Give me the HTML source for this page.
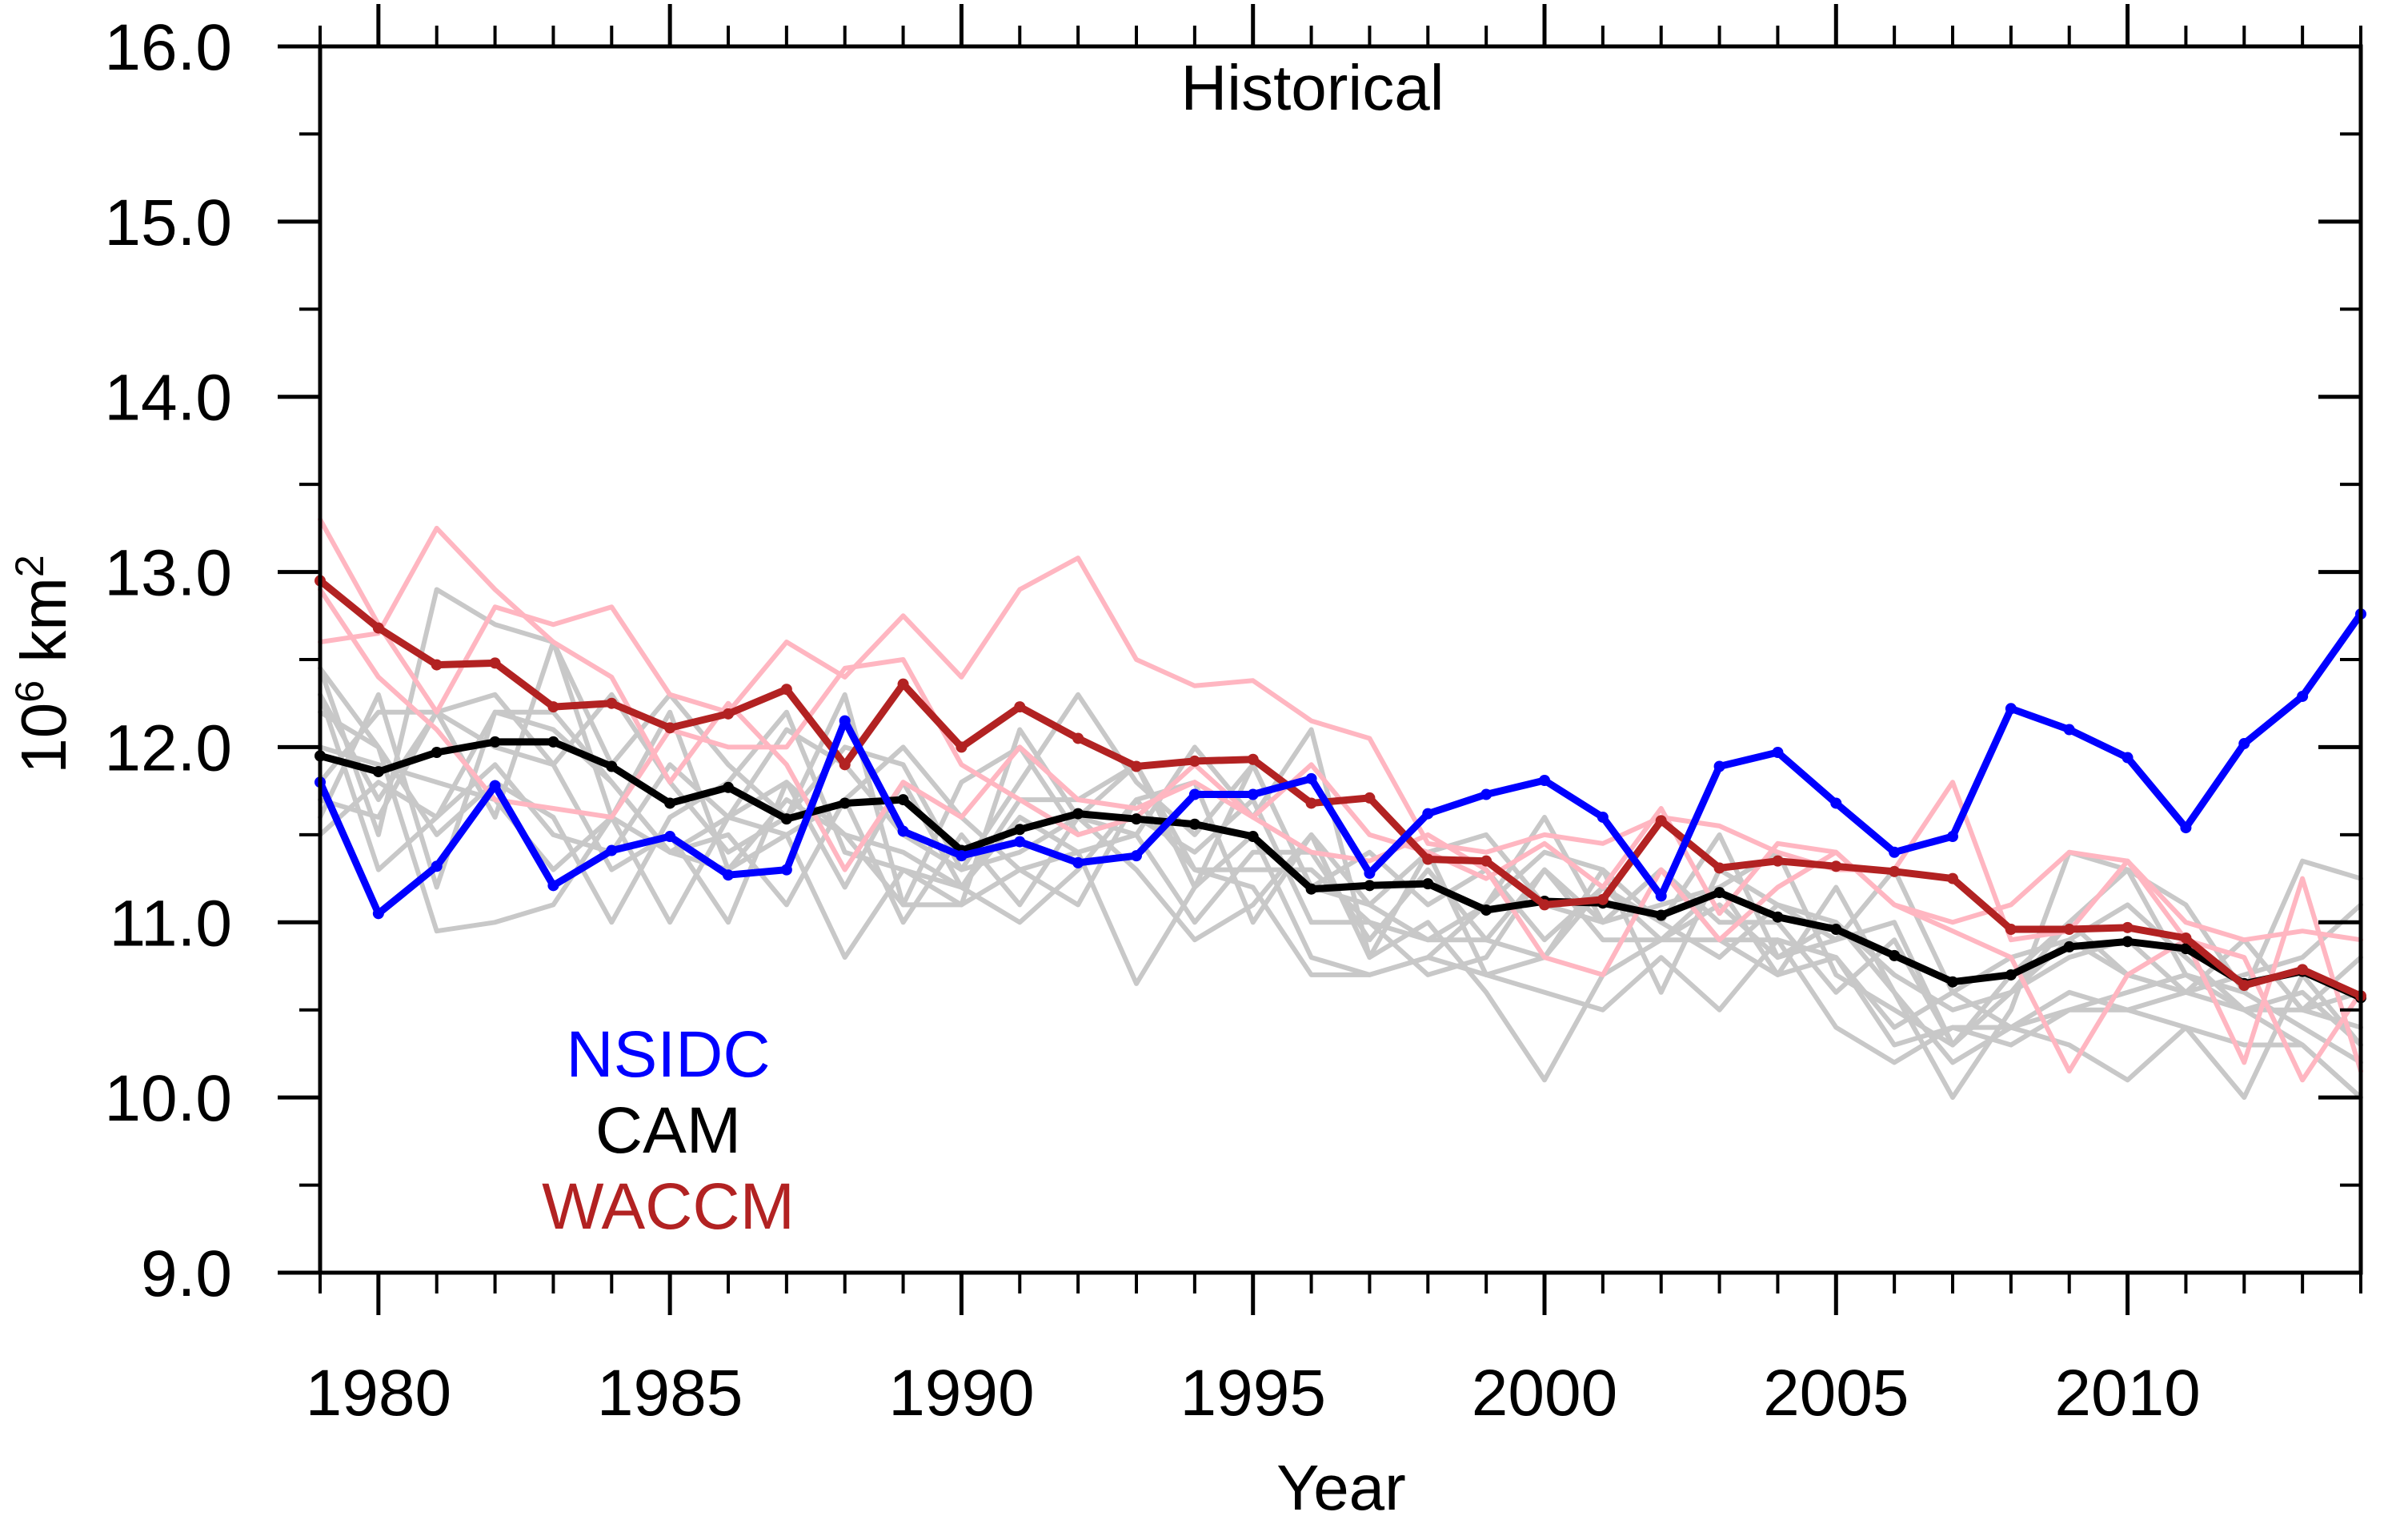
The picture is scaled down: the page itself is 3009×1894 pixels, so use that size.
<!DOCTYPE html>
<html><head><meta charset="utf-8"><style>
html,body{margin:0;padding:0;background:#fff;}
svg{display:block;font-family:"Liberation Sans",sans-serif;}
</style></head><body>
<svg id="chart" width="3009" height="1894" viewBox="0 0 3009 1894">
<g id="members"></g>
<g id="main"></g>
<g id="axes"></g>
<text x="1640" y="137" font-size="80" text-anchor="middle">Historical</text>
<text x="835" y="1345" font-size="82" text-anchor="middle" fill="#0000ff">NSIDC</text>
<text x="835" y="1440" font-size="82" text-anchor="middle" fill="#000">CAM</text>
<text x="835" y="1535" font-size="82" text-anchor="middle" fill="#b22222">WACCM</text>
<text x="1676" y="1886" font-size="80" text-anchor="middle">Year</text>
<text transform="translate(82,830) rotate(-90)" font-size="80" text-anchor="middle">10<tspan baseline-shift="super" font-size="50">6</tspan> km<tspan baseline-shift="super" font-size="50">2</tspan></text>
</svg>
<script>
const years=[];for(let y=1979;y<=2014;y++)years.push(y);
const nsidc=[11.80,11.05,11.32,11.78,11.21,11.41,11.49,11.27,11.30,12.15,11.52,11.38,11.46,11.34,11.38,11.73,11.73,11.82,11.28,11.62,11.73,11.81,11.60,11.15,11.89,11.97,11.68,11.40,11.49,12.22,12.10,11.94,11.54,12.02,12.29,12.76];
const cam=[11.95,11.86,11.97,12.03,12.03,11.89,11.68,11.77,11.59,11.68,11.70,11.41,11.53,11.62,11.59,11.56,11.49,11.19,11.21,11.22,11.07,11.12,11.11,11.04,11.17,11.03,10.96,10.81,10.66,10.70,10.86,10.89,10.85,10.65,10.72,10.57];
const waccm=[12.95,12.68,12.47,12.48,12.23,12.25,12.11,12.19,12.33,11.90,12.36,12.00,12.23,12.05,11.89,11.92,11.93,11.68,11.71,11.36,11.35,11.10,11.13,11.58,11.31,11.35,11.32,11.29,11.25,10.96,10.96,10.97,10.91,10.64,10.73,10.58];
const pink1=[13.3,12.7,12.2,12.8,12.7,12.8,12.3,12.2,12.6,12.4,12.75,12.4,12.9,13.08,12.5,12.35,12.38,12.15,12.05,11.45,11.4,11.5,11.45,11.6,11.55,11.4,11.3,11.3,11.8,10.9,10.95,11.35,11.0,10.9,10.95,10.9];
const pink2=[12.6,12.65,13.25,12.9,12.6,12.4,11.8,12.25,11.9,11.3,11.8,11.6,12.0,11.7,11.65,11.8,11.6,11.4,11.35,11.5,11.3,10.8,10.7,11.3,10.9,11.2,11.4,11.1,11.0,11.1,11.4,11.35,10.9,10.2,11.25,10.15];
const pink3=[12.9,12.4,12.1,11.7,11.65,11.6,12.1,12.0,12.0,12.45,12.5,11.9,11.7,11.5,11.6,11.9,11.6,11.9,11.5,11.4,11.25,11.45,11.2,11.65,11.05,11.45,11.4,11.1,10.95,10.8,10.15,10.7,10.9,10.8,10.1,10.6];
const gray1=[12.45,11.5,12.9,12.7,12.6,11.9,12.3,11.9,11.6,12.0,11.9,11.3,11.8,12.3,11.8,11.5,11.9,11.2,11.1,11.4,10.7,10.8,11.2,10.9,11.1,10.8,11.0,10.6,10.0,10.5,11.4,11.3,10.7,10.5,10.6,10.3];
const gray2=[12.2,12.0,10.95,11.0,11.1,11.6,11.0,11.6,11.5,10.8,11.3,11.1,11.3,11.4,10.65,11.2,11.5,10.8,10.7,10.8,10.7,10.6,10.5,10.8,10.5,10.9,10.8,10.4,10.6,10.4,10.3,10.1,10.4,10.3,10.3,10.0];
const gray3=[11.6,12.3,11.2,12.2,12.2,11.8,11.4,11.5,11.1,11.7,11.0,11.5,11.1,11.6,11.3,10.9,11.1,11.5,10.8,11.0,10.6,10.1,10.7,10.9,11.2,10.7,10.8,10.3,10.4,10.4,10.6,10.5,10.4,10.0,10.7,10.3];
const gray4=[12.3,11.7,12.2,11.6,12.6,11.6,12.2,11.3,11.7,11.5,11.4,11.2,11.6,11.4,11.5,11.0,11.4,11.4,10.9,11.3,10.9,10.8,11.3,11.0,10.8,11.1,11.0,10.7,10.5,10.6,11.0,11.3,11.1,10.6,11.35,11.25];
const gray5=[11.8,12.2,12.2,12.3,11.9,11.3,11.5,11.0,11.8,11.5,11.1,11.8,12.0,11.5,11.6,11.4,11.7,11.0,11.0,10.9,10.9,11.3,11.0,11.1,11.2,11.4,10.7,10.5,10.3,10.6,10.9,11.1,10.8,10.5,10.5,10.4];
const gray6=[12.45,12.0,11.5,11.8,11.6,11.0,11.6,11.8,12.2,11.4,11.3,11.2,11.7,11.7,11.9,11.3,11.2,10.7,10.7,10.8,11.1,11.6,11.0,11.3,10.9,10.7,11.2,10.6,10.2,10.4,10.5,10.6,10.7,10.6,10.4,10.2];
const gray7=[11.7,11.6,12.2,12.0,11.9,12.3,11.8,11.4,11.6,12.3,11.1,11.1,12.1,11.6,11.5,12.0,11.6,12.1,10.8,11.4,11.5,11.1,11.0,11.3,11.0,11.0,10.6,10.9,10.3,10.6,10.8,10.9,10.6,10.9,10.5,10.6];
const gray8=[12.3,11.3,11.6,11.9,11.5,11.4,11.9,11.6,12.1,11.9,11.5,11.3,11.4,11.6,11.9,11.2,11.9,11.2,11.4,11.1,11.3,10.9,11.2,11.0,11.5,10.8,10.9,11.0,10.3,10.7,11.0,10.7,10.6,10.9,10.5,10.8];
const gray9=[11.5,11.8,11.6,12.2,12.1,11.8,11.4,11.3,11.5,11.7,12.0,11.6,11.3,11.1,11.7,11.8,11.0,11.5,11.1,10.9,11.1,11.4,11.3,10.6,11.3,11.1,10.9,11.3,10.6,10.8,10.9,10.7,10.6,10.7,10.8,11.1];
const gray10=[12.0,11.9,11.8,11.7,11.3,11.6,11.4,11.6,11.8,11.2,11.8,11.2,11.0,11.3,11.7,11.3,11.3,11.3,11.0,10.7,10.8,11.3,10.9,10.9,10.9,10.9,10.4,10.2,10.4,10.3,10.5,10.5,10.6,10.5,10.3,10.0];
const yTicks=[9,10,11,12,13,14,15,16];
const xTicks=[1980,1985,1990,1995,2000,2005,2010];

const L=400,R=2950,T=58,B=1590,X0=1979,X1=2014,Y0=9,Y1=16;
const sx=v=>L+(v-X0)/(X1-X0)*(R-L);
const sy=v=>B-(v-Y0)/(Y1-Y0)*(B-T);
const NS='http://www.w3.org/2000/svg';
function mk(tag,attrs,parent){const e=document.createElementNS(NS,tag);for(const k in attrs)e.setAttribute(k,attrs[k]);parent.appendChild(e);return e;}
const mem=document.getElementById('members'),main=document.getElementById('main'),ax=document.getElementById('axes');
function line(vals,color,w,parent,name,dots){
  const d=vals.map((v,i)=>(i?'L':'M')+sx(years[i]).toFixed(1)+' '+sy(v).toFixed(1)).join(' ');
  const p=mk('path',{d:d,fill:'none',stroke:color,'stroke-width':w,'stroke-linejoin':'round','stroke-linecap':'round'},parent);
  
  
  if(dots){vals.forEach((v,i)=>{const c=mk('circle',{cx:sx(years[i]),cy:sy(v),r:7,fill:color},parent);
    
    });}
}
[gray1,gray2,gray3,gray4,gray5,gray6,gray7,gray8,gray9,gray10].forEach((s,i)=>line(s,'#c8c8c8',6,mem,'cam-member-'+(i+1),false));
[pink1,pink2,pink3].forEach((s,i)=>line(s,'#ffb6c1',6,mem,'waccm-member-'+(i+1),false));
line(cam,'#000000',9,main,'cam-mean-line',true);
line(waccm,'#b22222',9,main,'waccm-mean-line',true);
line(nsidc,'#0000ff',9,main,'nsidc-line',true);
const fr=mk('rect',{x:L,y:T,width:R-L,height:B-T,fill:'none',stroke:'#000','stroke-width':5},ax);


for(let y=X0;y<=X1;y++){
  const major=y%5===0,len=major?53:26,x=sx(y);
  const t1=mk('line',{x1:x,x2:x,y1:B,y2:B+len,stroke:'#000','stroke-width':major?5:4},ax);
  
  
  const t2=mk('line',{x1:x,x2:x,y1:T,y2:T-len,stroke:'#000','stroke-width':major?5:4},ax);
  
  
}
xTicks.forEach(y=>{const t=mk('text',{x:sx(y),y:1768,'font-size':82,'text-anchor':'middle'},ax);t.textContent=y;
  
  });
for(let v=Y0;v<=Y1+0.001;v+=0.5){
  const major=Math.abs(v-Math.round(v))<0.01,len=major?53:26,y=sy(v);
  const t1=mk('line',{x1:L,x2:L-len,y1:y,y2:y,stroke:'#000','stroke-width':major?5:4},ax);
  
  
  const t2=mk('line',{x1:R,x2:R-len,y1:y,y2:y,stroke:'#000','stroke-width':major?5:4},ax);
  
  
}
yTicks.forEach(v=>{const t=mk('text',{x:290,y:sy(v)+29,'font-size':82,'text-anchor':'end'},ax);t.textContent=v.toFixed(1);
  
  });
</script>
</body></html>
